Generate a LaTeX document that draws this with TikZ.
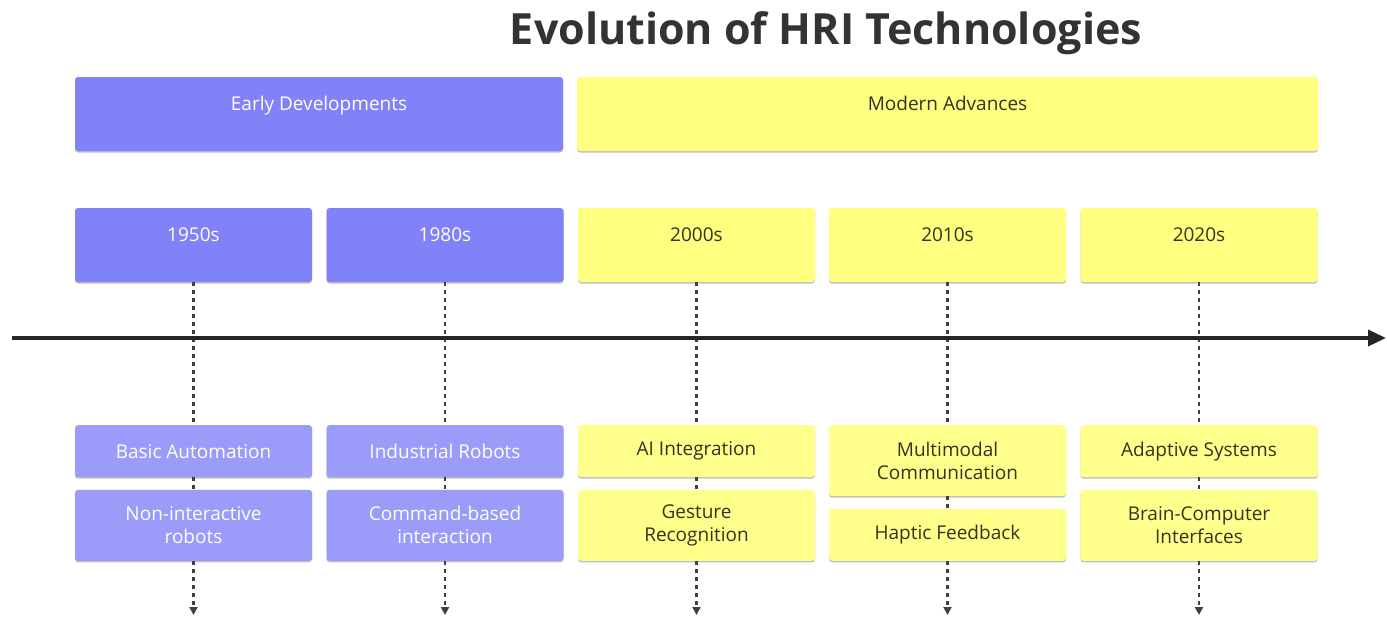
\documentclass[tikz,border=0pt]{standalone}
\usepackage{fontspec}
\setmainfont{Open Sans}
\usetikzlibrary{arrows.meta,shadows}
\definecolor{earlyfill}{RGB}{130,130,248}
\definecolor{earlyevfill}{RGB}{155,155,250}
\definecolor{modernfill}{RGB}{255,255,128}
\definecolor{modernevfill}{RGB}{255,255,140}
\definecolor{darktext}{RGB}{51,51,30}
\tikzset{
    box/.style={rectangle, rounded corners=3pt, inner xsep=4pt, inner ysep=0pt, align=center,
        font=\fontsize{19}{23}\selectfont,
        drop shadow={shadow xshift=0pt, shadow yshift=-1.5pt, fill=gray, opacity=0.5}},
    head/.style={box, text height=33pt, text depth=41pt},
    earlyhead/.style={head, fill=earlyfill, text=white},
    modernhead/.style={head, fill=modernfill, text=darktext},
    % Event styles
    event/.style={box, minimum width=237pt, minimum height=52pt},
    oldevent/.style={event, fill=earlyevfill, text=white},
    newevent/.style={event, fill=modernevfill, text=darktext},
    % Lines
    timeline/.style={line width=3.5pt, black!85, -{Triangle[length=18pt,width=16pt]}},
    dotline/.style={line width=2.2pt, black!75, dash pattern=on 4pt off 4pt},
    dotarrow/.style={dotline, -{Triangle[length=8pt,width=8pt]}}
}
\begin{document}
\begin{tikzpicture}[x=1pt, y=-1pt]
\useasboundingbox (0,0) rectangle (1387,619);

% Title
\node[font=\fontsize{43}{48}\selectfont\bfseries, text=black!80] (title) at (826,33) {Evolution of HRI Technologies};

% Eras
\node[earlyhead, minimum width=488pt] (early) at (319,114) {Early Developments};
\node[modernhead, minimum width=741pt] (modern) at (947.5,114) {Modern Advances};

% Decades
\foreach \yr/\x/\st [count=\i] in {1950s/193.5/earlyhead, 1980s/445/earlyhead, 2000s/696.5/modernhead, 2010s/947.5/modernhead, 2020s/1199/modernhead} {
    \node[\st, minimum width=237pt] (yr\i) at (\x,245) {\yr};
    \coordinate (end\i) at (\x,615);
}

% Events
\node[oldevent, anchor=north] (top1) at (193.5,425) {Basic Automation};
\node[oldevent, anchor=south, minimum height=71pt] (bot1) at (193.5,561) {Non-interactive\\robots};
\node[oldevent, anchor=north] (top2) at (445,425) {Industrial Robots};
\node[oldevent, anchor=south, minimum height=71pt] (bot2) at (445,561) {Command-based\\interaction};
\node[newevent, anchor=north] (top3) at (696.5,425) {AI Integration};
\node[newevent, anchor=south, minimum height=71pt] (bot3) at (696.5,561) {Gesture\\Recognition};
\node[newevent, anchor=north, minimum height=71pt] (top4) at (947.5,425) {Multimodal\\Communication};
\node[newevent, anchor=south] (bot4) at (947.5,561) {Haptic Feedback};
\node[newevent, anchor=north] (top5) at (1199,425) {Adaptive Systems};
\node[newevent, anchor=south, minimum height=71pt] (bot5) at (1199,561) {Brain-Computer\\Interfaces};

% Dotted links
\foreach \i in {1,...,5} {
    \draw[dotline] (yr\i) -- (top\i);
    \draw[dotline] (top\i) -- (bot\i);
    \draw[dotarrow] (bot\i) -- (end\i);
}

% Timeline
\coordinate (tstart) at (12,338);
\coordinate (tend) at (1386,338);
\draw[timeline] (tstart) -- (tend);
\end{tikzpicture}
\end{document}
